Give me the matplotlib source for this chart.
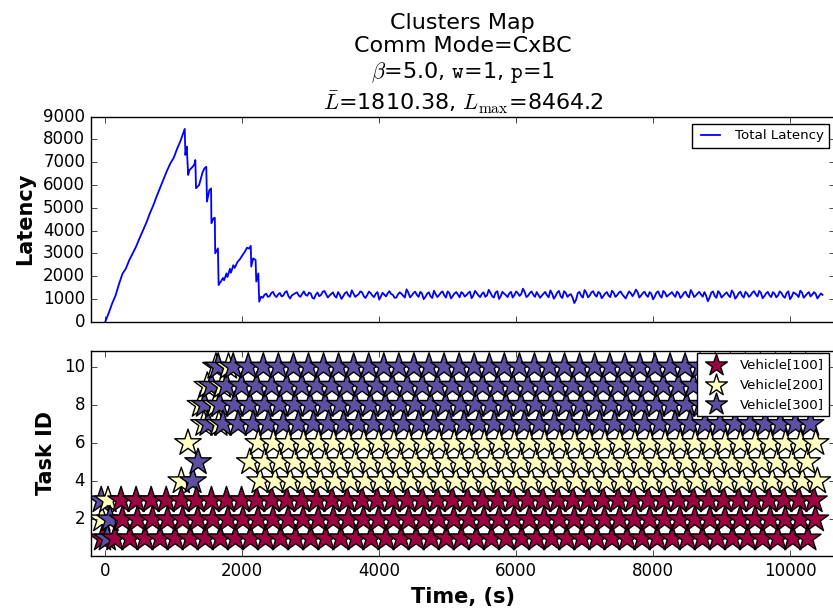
import matplotlib
matplotlib.use("Agg")
import matplotlib.pyplot as plt

# ---- latency trace -------------------------------------------------------
# ramp-up / re-clustering phase (irregular log times)
ramp_time = [0, 50, 100, 150, 200, 250, 300, 350, 400, 450, 500, 550, 600,
             650, 700, 750, 800, 850, 900, 950, 1000, 1050, 1100, 1160,
             1170, 1190, 1210, 1230, 1270, 1300, 1315, 1325, 1370, 1420,
             1450, 1475, 1485, 1520, 1545, 1550, 1580, 1600, 1605, 1645,
             1655, 1690, 1720, 1735, 1770, 1785, 1820, 1835, 1870, 1890,
             1930, 1970, 2010, 2040, 2070, 2100, 2125, 2132, 2160, 2195,
             2205, 2235, 2248, 2275]
ramp_value = [0, 380, 800, 1150, 1650, 2100, 2330, 2700, 3000, 3300, 3660,
              4000, 4350, 4750, 5100, 5500, 5880, 6250, 6620, 6950, 7200,
              7600, 7950, 8464.2, 7320, 7690, 6440, 6660, 6780, 6900, 7100,
              5860, 6000, 6550, 6740, 6800, 5270, 5780, 5850, 4320, 4540,
              4560, 3000, 3220, 1610, 1780, 1920, 1820, 2120, 1960, 2320,
              2150, 2480, 2360, 2620, 2760, 2950, 3080, 3250, 3210, 3330,
              2420, 2780, 2710, 1760, 2120, 880, 1100]

# steady phase, logged every 25 s from t=2300
steady_time = list(range(2300, 10500, 25))
steady_value = [
    1050, 1180, 1230, 1090, 1120, 1260, 1310, 1150, 1080, 1200, 1260, 1110, 1150, 1290, 1340, 1120, 1020, 1160, 1200, 1250,
    1290, 1150, 1090, 1220, 1330, 1180, 1140, 1280, 1240, 1050, 1010, 1190, 1280, 1120, 1170, 1310, 1350, 1200, 1060, 1150,
    1220, 1290, 1130, 1060, 1300, 1180, 1000, 1120, 1250, 1310, 1160, 1090, 1380, 1240, 1090, 1150, 1210, 1330, 1290, 1120,
    1040, 1170, 1320, 1260, 1150, 1080, 1230, 1300, 970, 1110, 1270, 1190, 1110, 1250, 1340, 1210, 1180, 1050, 1060, 1200,
    1290, 1230, 1140, 1060, 1420, 1280, 1070, 1150, 1250, 1320, 1180, 1090, 1310, 1240, 990, 1090, 1230, 1290, 1120, 1040,
    1360, 1210, 1080, 1170, 1270, 1330, 1160, 1060, 1330, 1250, 1020, 1130, 1240, 1300, 1190, 1070, 1300, 1240, 1100, 1170,
    1260, 1320, 1030, 1150, 1350, 1260, 1150, 1080, 1220, 1290, 1090, 1160, 1400, 1270, 1120, 1060, 1280, 1340, 1000, 1120,
    1310, 1230, 1170, 1080, 1240, 1310, 1060, 1170, 1330, 1250, 1130, 1220, 1450, 1300, 1080, 1140, 1260, 1330, 1190, 1090,
    1300, 1180, 1050, 1140, 1230, 1310, 1160, 1070, 1370, 1240, 1010, 1120, 1280, 1350, 1120, 1040, 1340, 1260, 1090, 1170,
    1210, 1050, 820, 960, 1250, 1310, 1140, 1060, 1390, 1280, 1070, 1150, 1290, 1340, 1180, 1100, 1310, 1250, 1030, 1130,
    1240, 1300, 1150, 1080, 1360, 1270, 1090, 1160, 1270, 1330, 1200, 1110, 1020, 1190, 1330, 1250, 1120, 1240, 1410, 1290,
    1060, 1150, 1250, 1320, 1170, 1090, 1300, 1220, 980, 1110, 1280, 1330, 1140, 1060, 1350, 1270, 1100, 1170, 1230, 1300,
    1180, 1090, 1320, 1240, 1040, 1130, 1260, 1320, 1150, 1070, 1390, 1260, 1080, 1150, 1240, 1310, 1190, 1100, 1300, 1140,
    900, 1060, 1270, 1330, 1130, 1050, 1340, 1250, 1060, 1140, 1220, 1290, 1160, 1080, 1370, 1260, 1010, 1110, 1250, 1320,
    1140, 1060, 1310, 1230, 1090, 1160, 1280, 1340, 1200, 1110, 1350, 1270, 1030, 1120, 1240, 1310, 1160, 1080, 1300, 1230,
    1070, 1150, 1330, 1260, 1120, 1050, 1260, 1330, 990, 1100, 1290, 1240, 1180, 1080, 1360, 1280, 1050, 1140, 1230, 1300,
    1110, 1190, 1300, 1220, 1020, 1130, 1240, 1180]

# ---- cluster assignments -------------------------------------------------
snap_times = [140, 360, 580, 800, 1020, 1240, 1460, 1680, 1900, 2120, 2340,
              2560, 2780, 3000, 3220, 3440, 3660, 3880, 4100, 4320, 4540,
              4760, 4980, 5200, 5420, 5640, 5860, 6080, 6300, 6520, 6740,
              6960, 7180, 7400, 7620, 7840, 8060, 8280, 8500, 8720, 8940,
              9160, 9380, 9600, 9820, 10040, 10260]

task_ids = [1, 2, 3, 4, 5, 6, 7, 8, 9, 10]
task_vehicle = [100, 100, 100, 200, 200, 200, 300, 300, 300, 300]
task_from = [140, 140, 140, 2120, 2120, 2120, 1460, 1460, 1460, 1680]
task_shift = [0, 110, 90, 140, -10, 115, 40, -10, 90, -32]

# isolated assignments before the clusters settled
extra_time = [-40, 30, -50, 70, -60, 40, 1110, 1280, 1355, 1208,
              1440, 1390, 1490, 1616, 1660, 1610, 1710, 1800]
extra_task = [1, 1, 2, 2, 3, 3, 4, 4, 5, 6,
              7, 8, 9, 10, 7, 8, 9, 10]
extra_vehicle = [100, 300, 200, 300, 300, 200, 200, 300, 300, 200,
                 200, 200, 200, 200, 200, 200, 200, 200]

vehicles = [100, 200, 300]
vehicle_color = {100: "#9e0142", 200: "#ffffbf", 300: "#5e4fa2"}

plt.style.use("classic")
fig = plt.figure(figsize=(8.33, 6.09), dpi=100)
W, H = 833.0, 609.0
ax1 = fig.add_axes([90.7 / W, 1 - 321.7 / H, 744.3 / W, 205.0 / H])
ax2 = fig.add_axes([90.7 / W, 1 - 556.0 / H, 744.3 / W, 205.3 / H], sharex=ax1)

# latency
ax1.plot(ramp_time + steady_time, ramp_value + steady_value, color="b",
         lw=1.3, label="Total Latency")
ax1.set_ylim(0, 9000)
ax1.set_yticks(range(0, 9001, 1000))
ax1.set_ylabel("Latency", fontsize=15, fontweight="bold", labelpad=6)
ax1.tick_params(labelbottom=False)
ax1.legend(loc="upper right", fontsize=9.6, bbox_to_anchor=(829 / W, 1 - 124 / H),
           bbox_transform=fig.transFigure, borderaxespad=0)

# stars: later snapshots drawn over earlier ones
stars = []
for tid, veh, t0, dt in zip(task_ids, task_vehicle, task_from, task_shift):
    for t in snap_times:
        if t >= t0:
            stars.append((t + dt, tid, veh))
for t, tid, veh in zip(extra_time, extra_task, extra_vehicle):
    stars.append((t, tid, veh))
stars.sort(key=lambda s: s[0])
ax2.scatter([s[0] for s in stars], [s[1] for s in stars], s=400, marker="*",
            c=[vehicle_color[s[2]] for s in stars], edgecolors="k", lw=1)
for v in vehicles:
    ax2.scatter([], [], s=270, marker="*", c=vehicle_color[v], edgecolors="k",
                lw=1, label=f"Vehicle[{v}]")
ax2.legend(loc="upper right", fontsize=9.6, scatterpoints=1,
           bbox_to_anchor=(829 / W, 1 - 353 / H), bbox_transform=fig.transFigure,
           borderaxespad=0)
ax2.set_ylim(0.08, 10.84)
ax2.set_yticks([2, 4, 6, 8, 10])
ax2.set_ylabel("Task ID", fontsize=15, fontweight="bold", labelpad=6)
ax2.set_xlabel("Time, (s)", fontsize=15, fontweight="bold")
ax2.set_xlim(-213, 10657)
ax2.set_xticks(range(0, 10001, 2000))

ax1.set_title("Clusters Map\nComm Mode=CxBC\n"
              r"$\beta$=5.0, $\mathtt{w}$=1, $\mathtt{p}$=1" "\n"
              r"$\bar{L}$=1810.38, $L_{\max}$=8464.2", fontsize=16)

fig.savefig("out.png", dpi=100, facecolor="white")
